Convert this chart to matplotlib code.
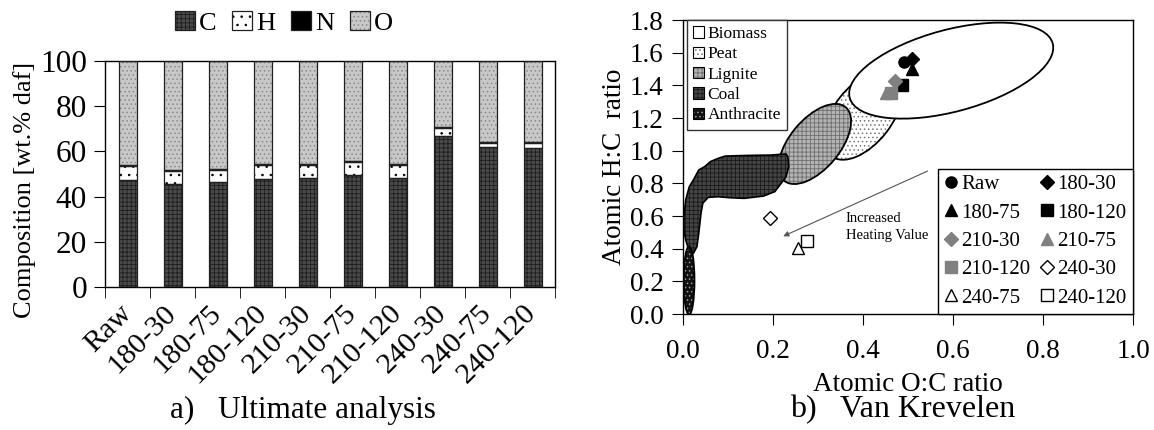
import numpy as np
import matplotlib
matplotlib.use("Agg")
import matplotlib.pyplot as plt
from matplotlib.patches import Ellipse, Polygon, Patch
from matplotlib.lines import Line2D
from matplotlib.transforms import Affine2D

plt.rcParams['font.family'] = ['Liberation Serif', 'DejaVu Serif']
plt.rcParams['hatch.linewidth'] = 0.6

# ---- a) ultimate analysis (wt.% daf) ----
samples = ['Raw', '180-30', '180-75', '180-120', '210-30', '210-75',
           '210-120', '240-30', '240-75', '240-120']
carbon = [47.5, 45.4, 46.3, 47.9, 48.3, 49.5, 48.2, 67.0, 61.9, 61.6]
hydrogen = [6.1, 5.8, 5.6, 5.9, 5.8, 5.6, 5.6, 3.2, 2.0, 2.2]
nitrogen = [0.5, 0.5, 0.4, 0.5, 0.5, 0.5, 0.5, 0.7, 0.4, 0.4]
oxygen = [45.9, 48.3, 47.7, 45.7, 45.4, 44.4, 45.7, 29.1, 35.7, 35.8]

# ---- b) van Krevelen points (O:C, H:C) ----
vk_labels = ['Raw', '180-30', '180-75', '180-120', '210-30', '210-75',
             '210-120', '240-30', '240-75', '240-120']
vk_oc = [0.492, 0.509, 0.509, 0.486, 0.470, 0.451, 0.462, 0.194, 0.256, 0.275]
vk_hc = [1.545, 1.559, 1.500, 1.400, 1.427, 1.355, 1.351, 0.590, 0.406, 0.445]
vk_markers = ['o', 'D', '^', 's', 'D', '^', 's', 'D', '^', 's']
vk_colors = ['black'] * 4 + ['#808080'] * 3 + ['white'] * 3

# fuel regions: centre (O:C, H:C), size and tilt
region_names = ['Biomass', 'Peat', 'Lignite', 'Coal', 'Anthracite']
ell_cx = [0.596, 0.400, 0.293, 0.0135]
ell_cy = [1.490, 1.218, 1.041, 0.205]
ell_w = [0.467, 0.231, 0.213, 0.024]
ell_h = [0.182, 0.129, 0.111, 0.152]
ell_ang = [15, 52, 50, 0]
coal_oc = [0.002, 0.006, 0.014, 0.023, 0.035, 0.048, 0.061, 0.078, 0.094, 0.145,
           0.195, 0.229, 0.233, 0.235, 0.229, 0.221, 0.204, 0.179, 0.136, 0.103,
           0.078, 0.056, 0.044, 0.040, 0.035, 0.031, 0.023, 0.014, 0.006, 0.002]
coal_hc = [0.596, 0.698, 0.780, 0.820, 0.882, 0.902, 0.933, 0.953, 0.967, 0.971,
           0.973, 0.980, 0.963, 0.902, 0.841, 0.810, 0.749, 0.722, 0.708, 0.712,
           0.718, 0.714, 0.678, 0.616, 0.494, 0.412, 0.371, 0.382, 0.453, 0.514]

W, H = 1154, 430
fig = plt.figure(figsize=(W / 100, H / 100), dpi=100)

# ================= left panel =================
ax1 = fig.add_axes([105 / W, 1 - 287 / H, 450 / W, 226 / H])
x = np.arange(len(samples))
bw = 0.4
styles = [  # face, hatch colour, hatch
    ('#4a4a4a', '#1e1e1e', '++++'),
    ('white', 'black', '..'),
    ('black', 'black', None),
    ('#c8c8c8', '#8a8a8a', '....'),
]
parts = [carbon, hydrogen, nitrogen, oxygen]
names = ['C', 'H', 'N', 'O']
bottom = np.zeros(len(samples))
handles = []
for vals, (fc, hc, ht), nm in zip(parts, styles, names):
    vals = np.array(vals)
    ax1.bar(x, vals, bw, bottom=bottom, color=fc, edgecolor=hc, hatch=ht,
            linewidth=0, zorder=2)
    ax1.bar(x, vals, bw, bottom=bottom, fill=False, edgecolor='#202020',
            linewidth=0.9, zorder=3)
    bottom += vals
    handles.append((Patch(facecolor=fc, edgecolor=hc, hatch=ht, linewidth=0),
                    Patch(fill=False, edgecolor='#202020', linewidth=0.9)))

ax1.set_xlim(-0.5, len(samples) - 0.5)
ax1.set_ylim(0, 100)
ax1.set_yticks(np.arange(0, 101, 20))
ax1.set_xticks(x)
ax1.set_xticklabels(samples, rotation=45, ha='right', va='center',
                    rotation_mode='anchor')
ax1.set_xticks(np.arange(-0.5, len(samples)), minor=True)
ax1.tick_params(axis='x', which='major', length=0, pad=16, labelsize=21.5)
ax1.tick_params(axis='x', which='minor', length=8, direction='out')
ax1.tick_params(axis='y', length=8, direction='out', labelsize=22.5, pad=5)
ax1.set_ylabel('Composition [wt.% daf]', fontsize=19)
ax1.yaxis.set_label_coords(-0.153, 0.43)
for s in ax1.spines.values():
    s.set_linewidth(1.0)
fig.legend(handles, names, loc='center', bbox_to_anchor=(284 / W, 1 - 23 / H),
           ncol=4, frameon=False, fontsize=19, handlelength=0.75,
           handleheight=0.75, handletextpad=0.15, columnspacing=0.6)
fig.text(303 / W, 1 - 410 / H, 'a)   Ultimate analysis', ha='center',
         va='center', fontsize=22.5)

# ================= right panel =================
ax2 = fig.add_axes([683 / W, 1 - 314 / H, 450 / W, 294 / H])
ax2.set_xlim(0, 1.0)
ax2.set_ylim(0, 1.8)
k = (294 / 1.8) / 450.0  # y px per unit / x px per unit
sq = Affine2D().scale(1, 1 / k) + ax2.transData

region_style = {
    'Biomass': ('white', 'white', None, 3),
    'Peat': ('white', '#777777', '....', 1),
    'Lignite': ('#b4b4b4', '#6e6e6e', '++++', 2),
    'Coal': ('#454545', '#1a1a1a', '++++', 4),
    'Anthracite': ('#111111', '#9a9a9a', '....', 5),
}
ell_names = ['Biomass', 'Peat', 'Lignite', 'Anthracite']
for nm, cx, cy, w, h, a in zip(ell_names, ell_cx, ell_cy, ell_w, ell_h, ell_ang):
    fc, hc, ht, z = region_style[nm]
    ax2.add_patch(Ellipse((cx, cy * k), w, h, angle=a, transform=sq,
                          facecolor=fc, edgecolor=hc, hatch=ht, lw=0, zorder=z))
    ax2.add_patch(Ellipse((cx, cy * k), w, h, angle=a, transform=sq,
                          fill=False, edgecolor='black', lw=1.3, zorder=z))
fc, hc, ht, z = region_style['Coal']
coal_xy = np.column_stack([coal_oc, coal_hc])
ax2.add_patch(Polygon(coal_xy, closed=True, facecolor=fc, edgecolor=hc,
                      hatch=ht, lw=0, zorder=z))
ax2.add_patch(Polygon(coal_xy, closed=True, fill=False, edgecolor='black',
                      lw=1.2, zorder=z))

pts = []
for ox, hy, mk, col, lab in zip(vk_oc, vk_hc, vk_markers, vk_colors, vk_labels):
    ms = 7 if mk == 'D' else 8
    ec = 'black' if col != '#808080' else '#808080'
    ax2.plot(ox, hy, linestyle='none', marker=mk, markersize=ms,
             markerfacecolor=col, markeredgecolor=ec, markeredgewidth=1.0,
             zorder=10)
    pts.append(Line2D([], [], linestyle='none', marker=mk, markersize=ms,
                      markerfacecolor=col, markeredgecolor=ec,
                      markeredgewidth=1.0, label=lab))

ax2.annotate('', xy=(0.217, 0.469), xytext=(0.549, 0.882),
             arrowprops=dict(arrowstyle='-|>', color='#555555', lw=0.8,
                             mutation_scale=8), zorder=6)
ax2.text(0.362, 0.532, 'Increased\nHeating Value', fontsize=10.5,
         ha='left', va='center', linespacing=1.35, zorder=6)

ax2.set_xticks(np.arange(0, 1.01, 0.2))
ax2.set_yticks(np.arange(0, 1.81, 0.2))
ax2.xaxis.set_major_formatter(plt.FormatStrFormatter('%.1f'))
ax2.yaxis.set_major_formatter(plt.FormatStrFormatter('%.1f'))
ax2.tick_params(length=8, direction='out', labelsize=19.5)
ax2.tick_params(axis='x', pad=10)
ax2.tick_params(axis='y', pad=6)
ax2.set_xlabel('Atomic O:C ratio', fontsize=19.5, labelpad=6)
ax2.set_ylabel('Atomic H:C  ratio', fontsize=19.5, labelpad=2)
for s in ax2.spines.values():
    s.set_linewidth(1.0)

# legend for fuel regions
reg_handles = []
for nm in region_names:
    fc, hc, ht, z = region_style[nm]
    reg_handles.append((Patch(facecolor=fc, edgecolor=hc, hatch=ht, lw=0),
                        Patch(fill=False, edgecolor='black', lw=0.8)))
leg1 = ax2.legend(reg_handles, region_names, loc='upper left',
                  bbox_to_anchor=(0.008, 1.0), borderaxespad=0, fontsize=12.5,
                  handlelength=0.65, handleheight=0.65, handletextpad=0.2,
                  labelspacing=0.25, fancybox=False, edgecolor='#333333',
                  borderpad=0.35, framealpha=1)
leg1.get_frame().set_linewidth(1.0)
leg1.set_zorder(20)
ax2.add_artist(leg1)

order = [0, 2, 4, 6, 8, 1, 3, 5, 7, 9]
leg2 = ax2.legend([pts[i] for i in order], [vk_labels[i] for i in order],
                  loc='lower right', bbox_to_anchor=(1.0, 0.0), borderaxespad=0,
                  ncol=2, fontsize=15, handlelength=0.6, handletextpad=0.2,
                  columnspacing=0.5, labelspacing=0.42, fancybox=False,
                  edgecolor='black', borderpad=0.3, framealpha=1)
leg2.get_frame().set_linewidth(1.0)
leg2.set_zorder(20)

fig.text(903 / W, 1 - 410 / H, 'b)   Van Krevelen', ha='center', va='center',
         fontsize=23)

fig.savefig('out.png', dpi=100)
